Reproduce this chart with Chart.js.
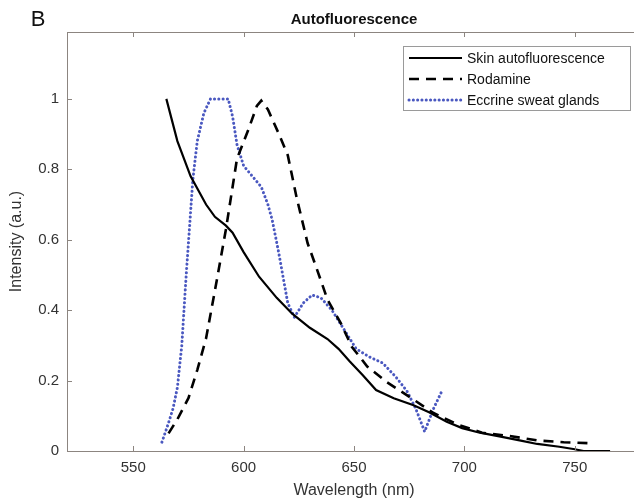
<!DOCTYPE html>
<html>
<head>
<meta charset="utf-8">
<script src="https://cdn.jsdelivr.net/npm/chart.js@4.4.1/dist/chart.umd.min.js"></script>
<style>
  html, body { margin: 0; padding: 0; background: #fff; overflow: hidden; }
  #wrap { width: 650px; height: 502px; }
</style>
</head>
<body>
<div id="wrap"><canvas id="autoChart" width="650" height="502"></canvas></div>
<script>
// values
const skinWl = [565, 570, 576, 583, 587, 592, 595, 600, 607, 615, 622, 630, 638, 643, 648, 654, 660, 668, 677, 684, 692, 699, 707, 717, 725, 733, 743, 750, 754, 766];
const skinInt = [1.0, 0.88, 0.78, 0.70, 0.665, 0.64, 0.62, 0.565, 0.495, 0.435, 0.39, 0.35, 0.318, 0.29, 0.255, 0.215, 0.173, 0.15, 0.13, 0.11, 0.083, 0.065, 0.052, 0.04, 0.03, 0.02, 0.012, 0.005, 0, 0];

const rodWl = [566, 570, 575, 579, 583, 588, 592, 597, 602, 606, 608, 611, 616, 620, 624, 629, 633, 638, 644, 649, 656, 665, 676, 686, 697, 708, 720, 733, 745, 757];
const rodInt = [0.05, 0.09, 0.15, 0.23, 0.32, 0.49, 0.63, 0.83, 0.91, 0.98, 0.995, 0.97, 0.9, 0.84, 0.72, 0.59, 0.52, 0.43, 0.363, 0.296, 0.24, 0.195, 0.15, 0.108, 0.075, 0.052, 0.043, 0.03, 0.025, 0.022];

const eccWl = [563, 566, 568, 570, 572, 574, 577, 579, 582, 585, 593, 595, 597, 600, 604, 608, 611, 613, 616, 618, 620, 623, 627, 631, 635, 640, 645, 651, 657, 663, 669, 674, 678, 682, 686, 690];
const eccInt = [0.025, 0.08, 0.12, 0.18, 0.3, 0.5, 0.77, 0.88, 0.96, 1.0, 1.0, 0.95, 0.87, 0.81, 0.78, 0.75, 0.7, 0.655, 0.56, 0.49, 0.42, 0.38, 0.42, 0.443, 0.435, 0.40, 0.35, 0.29, 0.267, 0.25, 0.21, 0.17, 0.12, 0.055, 0.12, 0.173];

const xTicks = [550, 600, 650, 700, 750];
const yTicks = [0, 0.2, 0.4, 0.6, 0.8, 1];

const names = ['Skin autofluorescence', 'Rodamine', 'Eccrine sweat glands'];

function pts(xs, ys) {
  return xs.map((x, i) => ({x: x, y: ys[i]}));
}

const axisCol = '#8c8580';
const textCol = '#333';
const font = '"Liberation Sans", Arial, sans-serif';

const datasets = [
  {label: names[0], data: pts(skinWl, skinInt), borderColor: '#000', borderWidth: 2.2},
  {label: names[1], data: pts(rodWl, rodInt), borderColor: '#000', borderWidth: 2.6, borderDash: [10, 7]},
  {label: names[2], data: pts(eccWl, eccInt), borderColor: '#4a58c0', borderWidth: 3, borderDash: [0.1, 4.2], borderCapStyle: 'round'}
];

const decor = {
  id: 'decor',
  afterDraw(chart) {
    const ctx = chart.ctx;
    const a = chart.chartArea;
    const xs = chart.scales.x, ys = chart.scales.y;
    ctx.save();
    // frame
    ctx.strokeStyle = axisCol;
    ctx.lineWidth = 1;
    ctx.beginPath();
    ctx.moveTo(a.left + 0.5, a.top + 0.5);
    ctx.lineTo(a.right, a.top + 0.5);
    ctx.moveTo(a.left + 0.5, a.top);
    ctx.lineTo(a.left + 0.5, a.bottom + 0.5);
    ctx.lineTo(a.right, a.bottom + 0.5);
    // inward ticks
    xTicks.forEach(v => {
      const px = Math.round(xs.getPixelForValue(v)) + 0.5;
      ctx.moveTo(px, a.bottom); ctx.lineTo(px, a.bottom - 5);
      ctx.moveTo(px, a.top); ctx.lineTo(px, a.top + 5);
    });
    yTicks.forEach(v => {
      const py = Math.round(ys.getPixelForValue(v)) + 0.5;
      ctx.moveTo(a.left, py); ctx.lineTo(a.left + 5, py);
    });
    ctx.stroke();

    // title and panel letter
    ctx.fillStyle = '#111';
    ctx.textBaseline = 'middle';
    ctx.textAlign = 'center';
    ctx.font = 'bold 15px ' + font;
    ctx.fillText('Autofluorescence', (a.left + a.right) / 2, 20);
    ctx.font = '22px ' + font;
    ctx.fillText('B', 38, 20);

    // axis titles
    ctx.fillStyle = textCol;
    ctx.font = '16px ' + font;
    ctx.fillText('Wavelength (nm)', (a.left + a.right) / 2, 491);
    ctx.save();
    ctx.translate(17, (a.top + a.bottom) / 2);
    ctx.rotate(-Math.PI / 2);
    ctx.fillText('Intensity (a.u.)', 0, 0);
    ctx.restore();

    // legend box inside plot
    const bx = 403, by = 46, bw = 227, bh = 64;
    ctx.fillStyle = '#fff';
    ctx.fillRect(bx, by, bw, bh);
    ctx.strokeStyle = '#9a9a9a';
    ctx.strokeRect(bx + 0.5, by + 0.5, bw, bh);
    ctx.font = '14px ' + font;
    ctx.textAlign = 'left';
    chart.data.datasets.forEach((ds, i) => {
      const ry = by + 12 + i * 21;
      ctx.save();
      ctx.strokeStyle = ds.borderColor;
      ctx.lineWidth = ds.borderWidth;
      ctx.setLineDash(ds.borderDash || []);
      ctx.lineCap = ds.borderCapStyle || 'butt';
      ctx.beginPath();
      ctx.moveTo(bx + 6, ry);
      ctx.lineTo(bx + 59, ry);
      ctx.stroke();
      ctx.restore();
      ctx.fillStyle = '#111';
      ctx.fillText(ds.label, bx + 64, ry + 1);
    });
    ctx.restore();
  }
};

new Chart(document.getElementById('autoChart').getContext('2d'), {
  type: 'line',
  data: {datasets: datasets},
  options: {
    responsive: false,
    animation: false,
    layout: {padding: {top: 32, right: 9, left: 0, bottom: 0}},
    elements: {point: {radius: 0}, line: {tension: 0, fill: false}},
    plugins: {legend: {display: false}, title: {display: false}, tooltip: {enabled: false}},
    scales: {
      x: {
        type: 'linear',
        min: 520,
        max: 780,
        afterBuildTicks: s => { s.ticks = xTicks.map(v => ({value: v})); },
        afterFit: s => { s.height = 51; },
        grid: {display: false},
        border: {display: false},
        ticks: {color: textCol, font: {family: font, size: 15}, padding: 0, maxRotation: 0}
      },
      y: {
        min: 0,
        max: 1.19,
        afterBuildTicks: s => { s.ticks = yTicks.map(v => ({value: v})); },
        afterFit: s => { s.width = 67; },
        grid: {display: false},
        border: {display: false},
        ticks: {color: textCol, font: {family: font, size: 15}, padding: 0,
          callback: v => String(+v.toFixed(1))}
      }
    }
  },
  plugins: [decor]
});
</script>
</body>
</html>
